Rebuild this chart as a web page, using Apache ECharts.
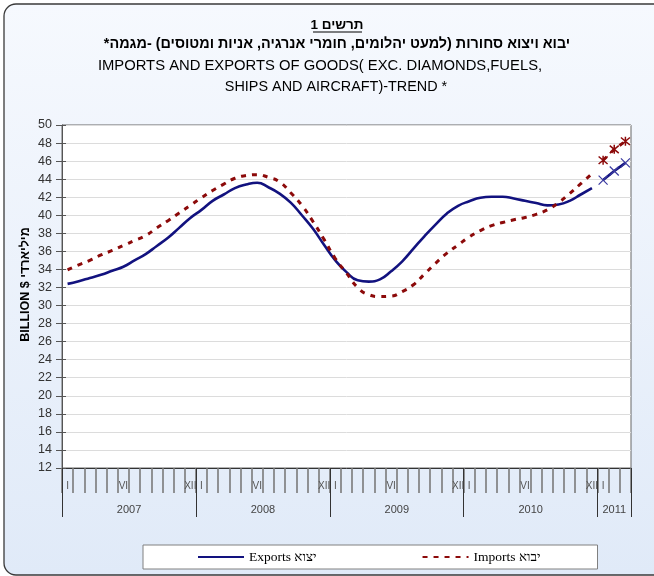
<!DOCTYPE html>
<html>
<head>
<meta charset="utf-8">
<script src="https://cdn.jsdelivr.net/npm/echarts@6/dist/echarts.min.js"></script>
<style>
html,body{margin:0;padding:0;background:#fff;}
#chart{width:654px;height:576px;}
</style>
</head>
<body>
<div id="chart"></div>
<script>
// ---- data ----
const monthLabels = [
  'I','','','','','VI','','','','','','XII',
  'I','','','','','VI','','','','','','XII',
  'I','','','','','VI','','','','','','XII',
  'I','','','','','VI','','','','','','XII',
  'I','',''
];
const yearLabels = ['2007','2008','2009','2010','2011'];
const yearStartIdx = [0,12,24,36,48];
const exportsTrend = [
  32.4,32.7,33.05,33.4,33.85,34.3,35.0,35.7,36.6,37.5,38.6,39.7,
  40.6,41.6,42.3,43.0,43.4,43.6,43.1,42.4,41.4,40.0,38.5,36.7,
  35.0,33.7,32.8,32.65,32.9,33.8,34.9,36.3,37.7,39.0,40.2,41.05,
  41.55,41.95,42.05,42.05,41.85,41.6,41.35,41.1,41.2,41.6,42.3,43.0
];
const importsTrend = [
  33.95,34.5,35.0,35.6,36.1,36.65,37.2,37.75,38.6,39.4,40.25,41.1,
  41.95,42.75,43.45,44.1,44.4,44.5,44.2,43.7,42.5,41.1,39.3,37.3,
  35.2,33.6,32.0,31.2,31.0,31.05,31.55,32.3,33.5,34.7,35.8,36.7,
  37.6,38.3,38.85,39.2,39.5,39.75,40.1,40.6,41.4,42.4,43.5,44.6
];
const exports2011 = [43.9,44.9,45.8];
const imports2011 = [46.1,47.3,48.2];
const yMin = 12, yMax = 50, yStep = 2;

// ---- build ----
const categories = monthLabels.map((m,i)=>'m'+i);
function pad(arr, offset){ const out = new Array(categories.length).fill(null); arr.forEach((v,i)=>out[offset+i]=v); return out; }

const navy = '#12127f';
const red = '#8c0a0a';
const FONT = "Arial, 'Liberation Sans', 'DejaVu Sans', sans-serif";
const xMark = 'path://M0,0L10,10M10,0L0,10';
const starMark = 'path://M0,0L10,10M10,0L0,10M5,-1L5,11';
const RLM = '\u200F';

const chart = echarts.init(document.getElementById('chart'), null, {renderer:'canvas'});
const option = {
  animation:false,
  graphic:[
    {type:'rect', z:-10, shape:{x:4,y:4,width:700,height:571,r:12},
     style:{fill:new echarts.graphic.LinearGradient(0,0,0,1,[{offset:0,color:'#f6f9fe'},{offset:1,color:'#e0eaf8'}]), stroke:'#3a3a3a', lineWidth:1.3}},
    {type:'line', shape:{x1:313,y1:32,x2:362,y2:32}, style:{stroke:'#000',lineWidth:1.2}}
  ],
  title:[
    {text:'תרשים 1', left:337, textAlign:'center', top:18, padding:0, textStyle:{fontFamily:FONT,fontSize:13.5,fontWeight:'bold',color:'#000'}},
    {text:'יבוא ויצוא סחורות (למעט יהלומים, חומרי אנרגיה, אניות ומטוסים) -מגמה*'+RLM, left:337, textAlign:'center', top:37, padding:0, textStyle:{fontFamily:FONT,fontSize:14.4,fontWeight:'bold',color:'#000'}},
    {text:'IMPORTS AND EXPORTS OF GOODS( EXC. DIAMONDS,FUELS,', left:320, textAlign:'center', top:58, padding:0, textStyle:{fontFamily:FONT,fontSize:14.8,fontWeight:'normal',color:'#000'}},
    {text:'SHIPS AND AIRCRAFT)-TREND *', left:336, textAlign:'center', top:80, padding:0, textStyle:{fontFamily:FONT,fontSize:14.4,fontWeight:'normal',color:'#000'}}
  ],
  legend:{
    data:['Exports יצוא','Imports יבוא'],
    left:143, top:545,
    backgroundColor:'#fff', borderColor:'#808080', borderWidth:1,
    padding:[5,57,5,54], itemGap:105, itemWidth:46, itemHeight:10,
    itemStyle:{opacity:0},
    textStyle:{fontFamily:"'Liberation Serif', 'Times New Roman', serif", fontSize:13.5, color:'#000'}
  },
  grid:{left:62, right:23, top:125, bottom:108, show:true, backgroundColor:'#fff', borderColor:'#666', borderWidth:1},
  xAxis:[
    {type:'category', data:categories, boundaryGap:true,
     axisLine:{show:true, lineStyle:{color:'#333', width:1}},
     axisTick:{show:true, interval:0, length:25, lineStyle:{color:'#7a7a7a', width:1.6}},
     axisLabel:{interval:0, margin:13, fontSize:10, fontFamily:FONT, color:'#555', formatter:(v,i)=>monthLabels[i]},
     splitLine:{show:false}},
    {type:'value', min:0, max:categories.length, interval:12, position:'bottom',
     axisLine:{show:false}, axisTick:{show:true, length:49, lineStyle:{color:'#333', width:1}},
     axisLabel:{show:false}, splitLine:{show:false}},
    {type:'category', data:categories, boundaryGap:true, position:'bottom',
     axisLine:{show:false}, axisTick:{show:false},
     axisLabel:{margin:36, fontSize:11, fontFamily:FONT, color:'#444',
       interval:(i)=>yearStartIdx.some(s=>i===(s===48?49:s+6)),
       formatter:(v,i)=>{ const k = yearStartIdx.findIndex(s=>i===(s===48?49:s+6)); if(k<0) return ''; return k===4? '{b|'+yearLabels[k]+'}' : '{a|'+yearLabels[k]+'}'; },
       rich:{a:{padding:[0,11,0,0], fontSize:11, fontFamily:FONT, color:'#444'}, b:{fontSize:11, fontFamily:FONT, color:'#444'}}},
     splitLine:{show:false}}
  ],
  yAxis:[
    {type:'value', min:yMin, max:yMax, interval:yStep,
     name:'BILLION $ מיליארדי', nameLocation:'middle', nameRotate:90, nameGap:30, nameMoveOverlap:false,
     nameTextStyle:{fontFamily:FONT, fontSize:12.5, fontWeight:'bold', color:'#000', padding:[0,0,0,24]},
     axisLine:{show:true, lineStyle:{color:'#555'}},
     axisTick:{show:true, length:6, lineStyle:{color:'#555'}},
     axisLabel:{fontFamily:FONT, fontSize:12.5, color:'#333', margin:10},
     splitLine:{show:true, lineStyle:{color:'#dcdcdc', width:1}}},
    {type:'value', min:yMin, max:yMax, interval:yStep, position:'left',
     axisLine:{show:false}, axisTick:{show:true, inside:true, length:4, lineStyle:{color:'#555'}},
     axisLabel:{show:false}, splitLine:{show:false}}
  ],
  series:[
    {name:'Exports יצוא', type:'line', xAxisIndex:0, data:pad(exportsTrend,0), smooth:true, symbol:'none',
     lineStyle:{color:navy, width:2.6}, itemStyle:{color:navy}},
    {name:'Imports יבוא', type:'line', xAxisIndex:0, data:pad(importsTrend,0), smooth:true, symbol:'none',
     lineStyle:{color:red, width:3, type:[5,6]}, itemStyle:{color:red}},
    {name:'Exports 2011', type:'line', xAxisIndex:0, data:pad(exports2011,48), symbol:xMark, symbolSize:9,
     lineStyle:{color:navy, width:2.6}, itemStyle:{color:'none', borderColor:'#3a3aa0', borderWidth:1.2}},
    {name:'Imports 2011', type:'line', xAxisIndex:0, data:pad(imports2011,48), symbol:starMark, symbolSize:9,
     lineStyle:{color:red, width:3, type:[5,6]}, itemStyle:{color:'none', borderColor:red, borderWidth:1.5}}
  ]
};
chart.setOption(option);
</script>
</body>
</html>
